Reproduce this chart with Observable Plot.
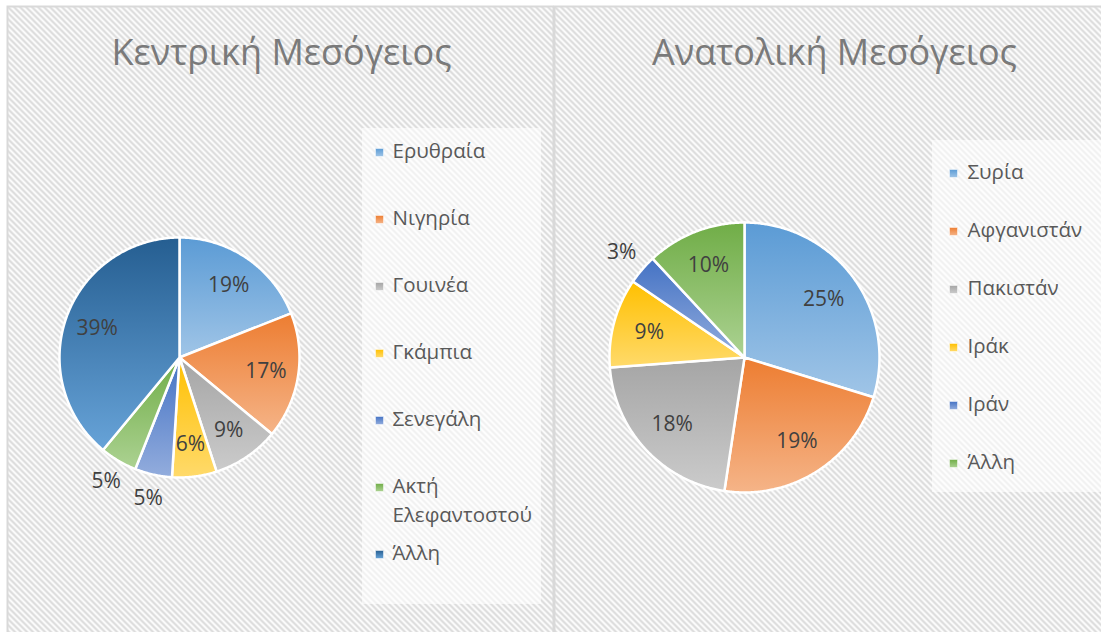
<!DOCTYPE html>
<html><head><meta charset="utf-8">
<script src="https://cdn.jsdelivr.net/npm/d3@7"></script>
<script src="https://cdn.jsdelivr.net/npm/@observablehq/plot@0.6"></script>
<style>
html,body{margin:0;padding:0;width:1101px;height:632px;overflow:hidden;background:#fff;}
#wrap{position:relative;width:1101px;height:632px;overflow:hidden;}
.panel{position:absolute;top:5px;}
.panel svg{max-width:none !important;}
g[aria-label="title"] text{letter-spacing:1.1px;}
</style></head><body><div id="wrap"></div>
<script>
// ---- data ----
const centralTitle = "Κεντρική Μεσόγειος";
const centralCountries = ["Ερυθραία", "Νιγηρία", "Γουινέα", "Γκάμπια", "Σενεγάλη", "Ακτή Ελεφαντοστού", "Άλλη"];
const centralShares = [19, 17, 9, 6, 5, 5, 39];
const centralColors = ["#5b9bd5", "#ed7d31", "#a5a5a5", "#ffc000", "#4472c4", "#70ad47", "#255e91"];

const easternTitle = "Ανατολική Μεσόγειος";
const easternCountries = ["Συρία", "Αφγανιστάν", "Πακιστάν", "Ιράκ", "Ιράν", "Άλλη"];
const easternShares = [25, 19, 18, 9, 3, 10];
const easternColors = ["#5b9bd5", "#ed7d31", "#a5a5a5", "#ffc000", "#4472c4", "#70ad47"];

const FONT = "'Open Sans', 'Noto Sans', sans-serif";

function lighter(c) {
  const h = d3.hsl(c);
  h.l = h.l + (1 - h.l) * 0.42;
  return h.formatHex();
}

function drawPanel(o) {
  const W = o.width, H = o.height;
  const rows = o.countries.map((c, i) => ({name: c, value: o.shares[i], color: o.colors[i], grad: `url(#${o.id}-g${i})`}));
  const arcs = d3.pie().sort(null).value(d => d.value)(rows);
  const pts = [];
  arcs.forEach((a, i) => {
    const n = Math.max(2, Math.ceil((a.endAngle - a.startAngle) / (Math.PI / 360)));
    pts.push({i, x: o.cx, y: o.cy, fill: rows[i].grad});
    for (let k = 0; k <= n; k++) {
      const t = a.startAngle + (a.endAngle - a.startAngle) * k / n;
      pts.push({i, x: o.cx + o.r * Math.sin(t), y: o.cy - o.r * Math.cos(t), fill: rows[i].grad});
    }
    pts.push({i, x: o.cx, y: o.cy, fill: rows[i].grad});
  });
  const labels = arcs.map((a, i) => {
    const mid = (a.startAngle + a.endAngle) / 2;
    const share = (a.endAngle - a.startAngle) / (2 * Math.PI);
    const k = share < 0.055 ? 1.2 : 0.73;
    return {x: o.cx + o.r * k * Math.sin(mid), y: o.cy - o.r * k * Math.cos(mid), text: `${rows[i].value}%`};
  });
  const legend = rows.map((d, i) => ({...d, y: o.lg.y0 + i * o.lg.step}));

  const plot = Plot.plot({
    width: W, height: H, margin: 0,
    x: {domain: [0, W], range: [0, W], axis: null},
    y: {domain: [0, H], range: [0, H], axis: null},
    color: {type: "identity"},
    style: {fontFamily: FONT, background: "transparent"},
    marks: [
      Plot.frame({fill: `url(#${o.id}-hatch)`, stroke: "#d9d9d9", strokeWidth: 2, inset: 1}),
      Plot.rect([o.lg.box], {x1: "x1", x2: "x2", y1: "y1", y2: "y2", fill: "white", fillOpacity: 0.6}),
      Plot.text([o.title], {x: o.titleX, y: o.titleY, text: d => d, fontSize: 36, fontWeight: 400, fill: "#7a7a7a", lineAnchor: "bottom", fontFamily: FONT, ariaLabel: "title"}),
      Plot.line(pts, {x: "x", y: "y", z: "i", fill: "fill", stroke: "white", strokeWidth: 2.5, strokeLinejoin: "round"}),
      Plot.text(labels, {x: "x", y: "y", text: "text", fontSize: 21, fill: "#404040", fontFamily: FONT}),
      Plot.dot(legend, {x: o.lg.sx, y: "y", symbol: "square", r: 4.6, fill: "grad", stroke: "white", strokeWidth: 0.6}),
      Plot.text(legend, {x: o.lg.tx, y: "y", text: "name", textAnchor: "start", lineAnchor: "top", dy: -15, lineWidth: 9, lineHeight: 1.42, fontSize: 20.5, fill: "#595959", fontFamily: FONT})
    ]
  });

  const defs = d3.select(plot).insert("defs", ":first-child");
  const pat = defs.append("pattern").attr("id", `${o.id}-hatch`).attr("patternUnits", "userSpaceOnUse")
    .attr("width", 6).attr("height", 6);
  pat.append("rect").attr("width", 6).attr("height", 6).attr("fill", "#ffffff");
  pat.append("path").attr("d", "M-1,-1L7,7M-1,5L1,7M5,-1L7,1").attr("stroke", "#dadada").attr("stroke-width", 2.2);
  rows.forEach((d, i) => {
    const g = defs.append("linearGradient").attr("id", `${o.id}-g${i}`).attr("x1", 0).attr("y1", 0).attr("x2", 0).attr("y2", 1);
    g.append("stop").attr("offset", 0).attr("stop-color", d.color);
    g.append("stop").attr("offset", 1).attr("stop-color", lighter(d.color));
  });

  const div = document.createElement("div");
  div.className = "panel";
  div.style.left = o.left + "px";
  div.style.width = W + "px";
  div.appendChild(plot);
  document.getElementById("wrap").appendChild(div);
}

drawPanel({
  id: "central", title: centralTitle, countries: centralCountries, shares: centralShares, colors: centralColors,
  left: 6, width: 548, height: 640,
  cx: 173, cy: 352, r: 120,
  titleX: 275, titleY: 59,
  lg: {sx: 373, tx: 386, y0: 147, step: 67, box: {x1: 356, x2: 535, y1: 123, y2: 599}}
});
drawPanel({
  id: "eastern", title: easternTitle, countries: easternCountries, shares: easternShares, colors: easternColors,
  left: 553, width: 560, height: 640,
  cx: 191, cy: 352, r: 135,
  titleX: 281, titleY: 59,
  lg: {sx: 400, tx: 414, y0: 168, step: 58, box: {x1: 379, x2: 570, y1: 135, y2: 487}}
});
</script></body></html>
